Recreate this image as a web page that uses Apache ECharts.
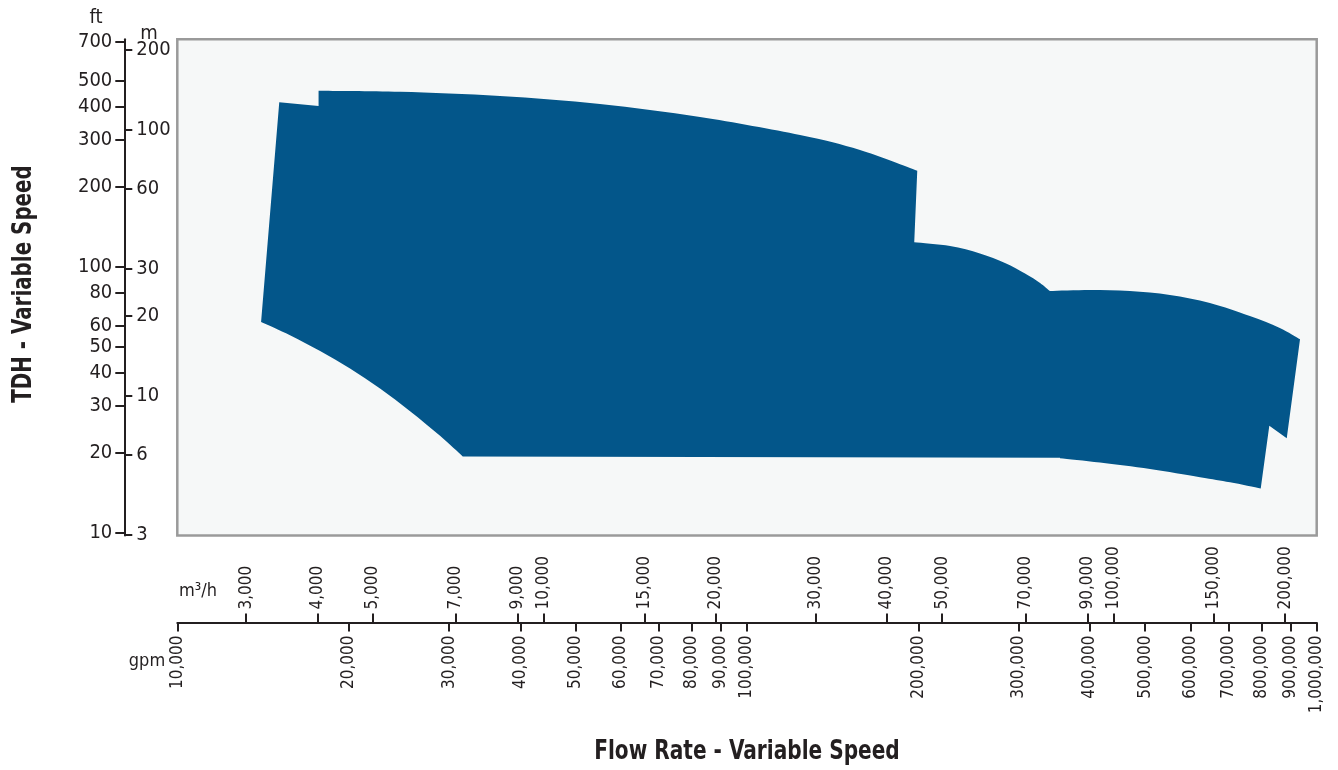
<!DOCTYPE html>
<html>
<head>
<meta charset="utf-8">
<script src="https://cdn.jsdelivr.net/npm/echarts@6/dist/echarts.min.js"></script>
<style>
html,body{margin:0;padding:0;background:#ffffff;}
#chart{width:1338px;height:770px;}
</style>
</head>
<body>
<div id="chart"></div>
<script>
// ---- data ----
const GPM_TICKS = [10000,20000,30000,40000,50000,60000,70000,80000,90000,100000,200000,300000,400000,500000,600000,700000,800000,900000,1000000];
const M3H_TICKS = [3000,4000,5000,7000,9000,10000,15000,20000,30000,40000,50000,70000,90000,100000,150000,200000];
const FT_TICKS = [10,20,30,40,50,60,80,100,200,300,400,500,700];
const M_TICKS = [3,6,10,20,30,60,100,200];

// operating envelope outline, [flow gpm, head ft], traced clockwise
const leftStep      = [[15100, 416], [17700, 403]];                                   // straight
const topCurve      = [[17700, 460], [24600, 455.6], [36850, 439.4], [55200, 410.1], [82700, 366.4],
                       [123900, 313.5], [157900, 275.4], [199000, 230.2]];             // smooth
const midCurve      = [[196600, 123.8], [227200, 119.9], [256400, 112.4], [283700, 103.5],
                       [307600, 94.5], [326900, 87.1], [340200, 81.2]];                // smooth
const rightTopCurve = [[340200, 81.2], [399700, 81.9], [469900, 81.2], [552500, 78.5],
                       [649400, 73.2], [763300, 65.4], [861500, 59.0], [934800, 53.5]]; // smooth
const rightNotch    = [[886000, 22.7], [825700, 25.3], [797500, 14.7]];               // straight
const bottomRight   = [[797500, 14.7], [704500, 15.5], [624000, 16.2], [509700, 17.4],
                       [416500, 18.4], [354300, 19.1]];                                // smooth
const bottomFlat    = [[354300, 19.2], [31700, 19.4]];                                 // straight
const lowerLeft     = [[31700, 19.4], [28920, 23.2], [25620, 28.7], [22690, 34.9], [20100, 41.5],
                       [17810, 48.3], [15770, 55.4], [14030, 62.1]];                   // smooth
const OUTLINE = [
  {pts: leftStep, smooth: false}, {pts: topCurve, smooth: true}, {pts: midCurve, smooth: true},
  {pts: rightTopCurve, smooth: true}, {pts: rightNotch, smooth: false}, {pts: bottomRight, smooth: true},
  {pts: bottomFlat, smooth: false}, {pts: lowerLeft, smooth: true}
];

const GPM_PER_M3H = 4.403;
const M_PER_FT = 0.3048;
const FLOW_MIN = 10000, FLOW_MAX = 1000000;
const HEAD_MIN = 9.785, HEAD_MAX = 717.6;

// ---- chart ----
const L = Math.log10;
const fmt = v => Math.round(Math.pow(10, v)).toLocaleString('en-US');
const TXT = '#231f20';
const AX = '#231f20';
const FONT = "'DejaVu Sans Condensed', 'Liberation Sans', sans-serif";

function buildPath(api) {
  let d = '';
  let first = true;
  const f = n => n.toFixed(2);
  OUTLINE.forEach(seg => {
    const p = seg.pts.map(([q, h]) => api.coord([L(q), L(h)]));
    if (first) { d += 'M' + f(p[0][0]) + ' ' + f(p[0][1]); first = false; }
    else { d += 'L' + f(p[0][0]) + ' ' + f(p[0][1]); }
    if (!seg.smooth) {
      for (let i = 1; i < p.length; i++) d += 'L' + f(p[i][0]) + ' ' + f(p[i][1]);
    } else {
      for (let i = 0; i < p.length - 1; i++) {
        const p0 = p[Math.max(0, i - 1)], p1 = p[i], p2 = p[i + 1], p3 = p[Math.min(p.length - 1, i + 2)];
        const c1 = [p1[0] + (p2[0] - p0[0]) / 6, p1[1] + (p2[1] - p0[1]) / 6];
        const c2 = [p2[0] - (p3[0] - p1[0]) / 6, p2[1] - (p3[1] - p1[1]) / 6];
        d += 'C' + f(c1[0]) + ' ' + f(c1[1]) + ' ' + f(c2[0]) + ' ' + f(c2[1]) + ' ' + f(p2[0]) + ' ' + f(p2[1]);
      }
    }
  });
  return d + 'Z';
}

const chart = echarts.init(document.getElementById('chart'), null, {renderer: 'canvas'});

const option = {
  animation: false,
  backgroundColor: '#ffffff',
  grid: {
    left: 177.3, right: 21.3, top: 39.3, bottom: 234.5,
    show: true, backgroundColor: '#f6f8f8', borderColor: '#9a9a9a', borderWidth: 2.5
  },
  xAxis: [
    {
      type: 'value', position: 'bottom', offset: 87,
      min: L(FLOW_MIN), max: L(FLOW_MAX),
      splitLine: {show: false},
      axisLine: {show: true, onZero: false, lineStyle: {color: AX, width: 2}},
      axisTick: {show: true, length: 9, lineStyle: {color: AX, width: 2}, customValues: GPM_TICKS.map(L)},
      axisLabel: {show: true, rotate: 90, margin: 13, fontSize: 17, color: TXT, fontFamily: FONT,
        customValues: GPM_TICKS.map(L), formatter: fmt, hideOverlap: false}
    },
    {
      type: 'value', position: 'bottom', offset: 87,
      min: L(FLOW_MIN / GPM_PER_M3H), max: L(FLOW_MAX / GPM_PER_M3H),
      splitLine: {show: false},
      axisLine: {show: false, onZero: false},
      axisTick: {show: true, inside: true, length: 9, lineStyle: {color: AX, width: 2}, customValues: M3H_TICKS.map(L)},
      axisLabel: {show: true, inside: true, rotate: 90, margin: 13, fontSize: 17, color: TXT, fontFamily: FONT,
        customValues: M3H_TICKS.map(L), formatter: fmt, hideOverlap: false}
    }
  ],
  yAxis: [
    {
      type: 'value', position: 'left', offset: 53,
      min: L(HEAD_MIN), max: L(HEAD_MAX),
      splitLine: {show: false},
      axisLine: {show: true, onZero: false, lineStyle: {color: AX, width: 2}},
      axisTick: {show: true, length: 9, lineStyle: {color: AX, width: 2}, customValues: FT_TICKS.map(L)},
      axisLabel: {show: true, margin: 12, fontSize: 20, color: TXT, fontFamily: FONT,
        customValues: FT_TICKS.map(L), formatter: fmt, hideOverlap: false}
    },
    {
      type: 'value', position: 'left', offset: 53,
      min: L(HEAD_MIN * M_PER_FT), max: L(HEAD_MAX * M_PER_FT),
      splitLine: {show: false},
      axisLine: {show: false, onZero: false},
      axisTick: {show: true, inside: true, length: 8, lineStyle: {color: AX, width: 2}, customValues: M_TICKS.map(L)},
      axisLabel: {show: true, inside: true, margin: 12, fontSize: 20, color: TXT, fontFamily: FONT,
        customValues: M_TICKS.map(L), formatter: fmt, hideOverlap: false}
    }
  ],
  series: [
    {
      type: 'custom',
      coordinateSystem: 'cartesian2d',
      xAxisIndex: 0, yAxisIndex: 0,
      silent: true,
      clip: true,
      data: [[L(leftStep[0][0]), L(leftStep[0][1])]],
      renderItem: function (params, api) {
        return {type: 'path', shape: {pathData: buildPath(api)}, style: {fill: '#03568a', stroke: null}};
      }
    }
  ],
  graphic: [
    {type: 'text', x: 96, y: 18, style: {text: 'ft', fill: TXT, font: "20px " + FONT, align: 'center', verticalAlign: 'middle'}},
    {type: 'text', x: 149, y: 34, style: {text: 'm', fill: TXT, font: "20px " + FONT, align: 'center', verticalAlign: 'middle'}},
    {type: 'text', x: 198, y: 591, style: {text: 'm³/h', fill: TXT, font: "18px " + FONT, align: 'center', verticalAlign: 'middle'}},
    {type: 'text', x: 147, y: 661, style: {text: 'gpm', fill: TXT, font: "18px " + FONT, align: 'center', verticalAlign: 'middle'}},
    {type: 'text', x: 747, y: 752, scaleX: 0.86, style: {text: 'Flow Rate - Variable Speed', fill: TXT, font: "bold 26px " + FONT, align: 'center', verticalAlign: 'middle'}},
    {type: 'text', x: 24, y: 284, rotation: Math.PI / 2, scaleX: 0.85, style: {text: 'TDH - Variable Speed', fill: TXT, font: "bold 26px " + FONT, align: 'center', verticalAlign: 'middle'}}
  ]
};
chart.setOption(option);
</script>
</body>
</html>
